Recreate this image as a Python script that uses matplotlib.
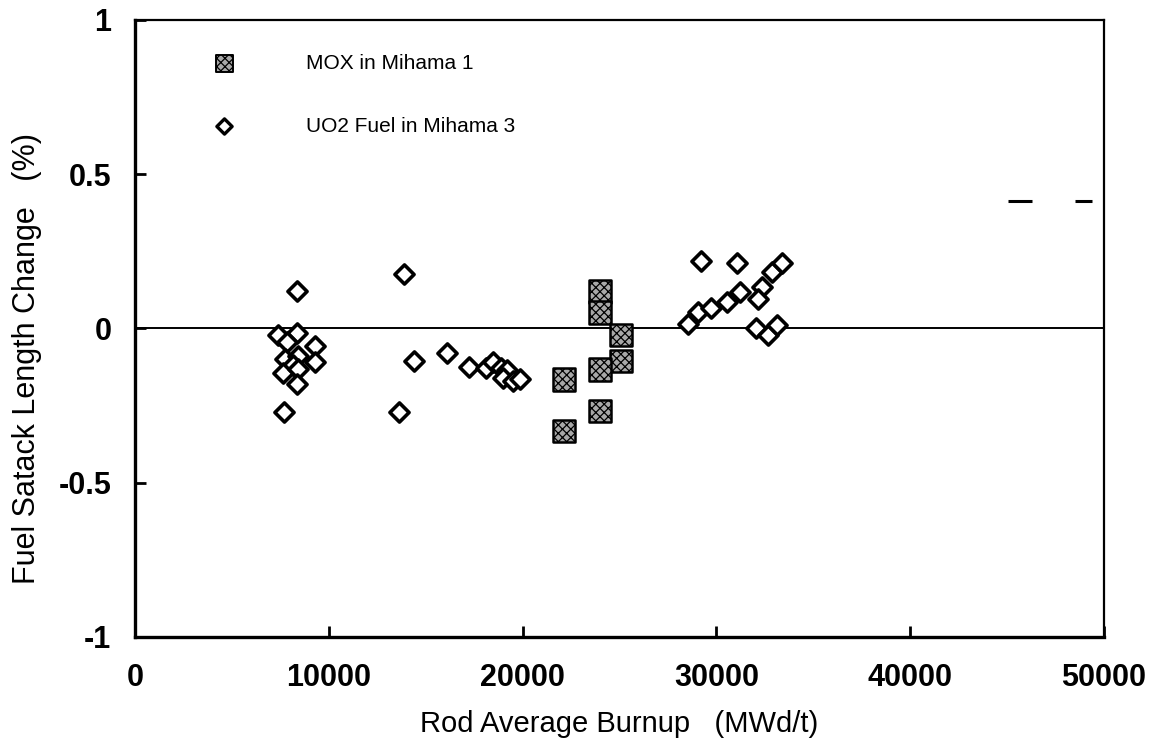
import matplotlib
matplotlib.use("Agg")
import matplotlib.pyplot as plt

plt.rcParams['font.family'] = ['Liberation Sans', 'DejaVu Sans']
plt.rcParams['hatch.linewidth'] = 0.9

# MOX fuel rods in Mihama 1
mox_burnup = [24000, 24000, 25080, 25080, 24000, 22140, 24000, 22140]
mox_change = [0.120, 0.052, -0.022, -0.105, -0.133, -0.165, -0.268, -0.333]

# UO2 fuel rods in Mihama 3
uo2_burnup = [8370, 13880, 7400, 8340, 7830, 9290, 9290, 7740, 8400, 8170,
              7650, 8430, 8370, 7690, 13640, 14400, 16080, 17250,
              18110, 18490, 18870, 19180, 19000, 19480, 19870,
              29190, 31080, 28550, 29070, 29720, 30530, 31220, 32330,
              32160, 32850, 33400, 32040, 32680, 33110]
uo2_change = [0.123, 0.175, -0.020, -0.015, -0.045, -0.057, -0.110, -0.100, -0.090, -0.120,
              -0.143, -0.130, -0.180, -0.270, -0.270, -0.107, -0.080, -0.125,
              -0.127, -0.109, -0.127, -0.135, -0.160, -0.170, -0.165,
              0.218, 0.212, 0.014, 0.052, 0.068, 0.085, 0.117, 0.134,
              0.095, 0.182, 0.212, 0.001, -0.020, 0.010]

# stray dash fragments on the scan
dash_x = [[45050, 46300], [48500, 49400]]
dash_y = [[0.412, 0.412], [0.412, 0.412]]

xticks = [0, 10000, 20000, 30000, 40000, 50000]
yticks = [-1, -0.5, 0, 0.5, 1]
ytick_labels = ['-1', '-0.5', '0', '0.5', '1']

fig = plt.figure(figsize=(11.57, 7.43), dpi=100)
ax = fig.add_axes([0.1167, 0.1427, 0.8375, 0.8304])

ax.axhline(0, color='black', lw=1.4, zorder=1)

for xs, ys in zip(dash_x, dash_y):
    ax.plot(xs, ys, color='black', lw=2.2, solid_capstyle='butt')

ax.scatter(uo2_burnup, uo2_change, marker='D', s=95, facecolor='white',
           edgecolor='black', linewidth=2.6, zorder=3)
ax.scatter(mox_burnup, mox_change, marker='s', s=260, facecolor='#a8a8a8',
           edgecolor='black', linewidth=1.8, hatch='xxxx', zorder=4)

ax.set_xlim(0, 50000)
ax.set_ylim(-1, 1)
ax.set_xticks(xticks)
ax.set_xticklabels([str(t) for t in xticks])
ax.set_yticks(yticks)
ax.set_yticklabels(ytick_labels)
ax.tick_params(axis='x', pad=19)
ax.tick_params(axis='y', pad=17)
ax.tick_params(direction='in', length=8, width=2, labelsize=22,
               top=False, right=False)
for lab in ax.get_xticklabels() + ax.get_yticklabels():
    lab.set_fontweight('bold')

for side in ['left', 'bottom']:
    ax.spines[side].set_linewidth(2.4)
for side in ['top', 'right']:
    ax.spines[side].set_linewidth(1.6)

ax.set_xlabel('Rod Average Burnup   (MWd/t)', fontsize=21, labelpad=12)
ax.set_ylabel('Fuel Satack Length Change   (%)', fontsize=22)
ax.yaxis.set_label_coords(-0.096, 0.452)

# legend drawn by hand
ax.scatter([0.092], [0.929], transform=ax.transAxes, marker='s', s=150,
           facecolor='#a8a8a8', edgecolor='black', linewidth=1.4, hatch='xxxx',
           clip_on=False)
ax.scatter([0.092], [0.828], transform=ax.transAxes, marker='D', s=60,
           facecolor='white', edgecolor='black', linewidth=2.4, clip_on=False)
ax.text(0.176, 0.929, 'MOX in Mihama 1', transform=ax.transAxes,
        fontsize=15, va='center')
ax.text(0.176, 0.828, 'UO2 Fuel in Mihama 3', transform=ax.transAxes,
        fontsize=15, va='center')

fig.savefig('out.png', dpi=100)
